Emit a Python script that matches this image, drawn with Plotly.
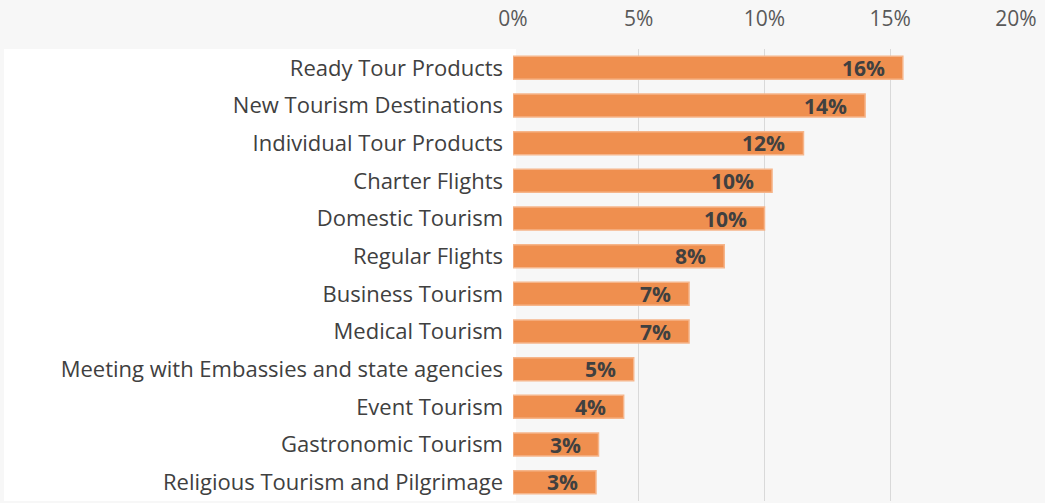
import plotly.graph_objects as go

categories = [
    "Ready Tour Products",
    "New Tourism Destinations",
    "Individual Tour Products",
    "Charter Flights",
    "Domestic Tourism",
    "Regular Flights",
    "Business Tourism",
    "Medical Tourism",
    "Meeting with Embassies and state agencies",
    "Event Tourism",
    "Gastronomic Tourism",
    "Religious Tourism and Pilgrimage",
]
values = [15.5, 14.0, 11.55, 10.3, 10.0, 8.4, 7.0, 7.0, 4.8, 4.4, 3.4, 3.3]
labels = ["16%", "14%", "12%", "10%", "10%", "8%", "7%", "7%", "5%", "4%", "3%", "3%"]
x_ticks = [0, 5, 10, 15, 20]

fig = go.Figure(go.Bar(
    x=values,
    y=categories,
    orientation="h",
    marker=dict(color="#ef8f4f", line=dict(color="#f6b58a", width=1.5)),
    hoverinfo="skip",
))

annotations = [
    dict(
        x=v, y=c, xref="x", yref="y", text=t, showarrow=False,
        xanchor="right", yanchor="middle", xshift=-16,
        font=dict(family="Open Sans", size=21, color="#404040", weight="bold"),
    )
    for c, v, t in zip(categories, values, labels)
]

fig.update_layout(
    width=1045,
    height=503,
    paper_bgcolor="#f7f7f7",
    plot_bgcolor="#f7f7f7",
    margin=dict(l=513, r=29, t=49, b=2),
    bargap=0.39,
    showlegend=False,
    font=dict(family="Open Sans", color="#404040"),
    annotations=annotations,
    shapes=[dict(
        type="rect", xref="paper", yref="paper",
        x0=-509/503, x1=3/503, y0=0, y1=1,
        fillcolor="white", line=dict(width=0), layer="below",
    )],
)
fig.update_xaxes(
    side="top",
    range=[0, 20],
    tickvals=x_ticks,
    ticktext=[f"{t}%" for t in x_ticks],
    tickfont=dict(family="Open Sans", size=21, color="#595959"),
    showgrid=True,
    gridcolor="#d9d9d9",
    gridwidth=1,
    zeroline=False,
    showline=False,
    ticks="",
    ticklabelstandoff=18,
    fixedrange=True,
)
fig.update_yaxes(
    categoryorder="array",
    categoryarray=categories[::-1],
    tickfont=dict(family="Open Sans", size=22, color="#404040"),
    showgrid=False,
    ticks="",
    ticklabelstandoff=9,
    fixedrange=True,
)

fig.write_html(
    "out.html",
    config={"displayModeBar": False},
    post_script="document.body.style.margin='0';",
)
